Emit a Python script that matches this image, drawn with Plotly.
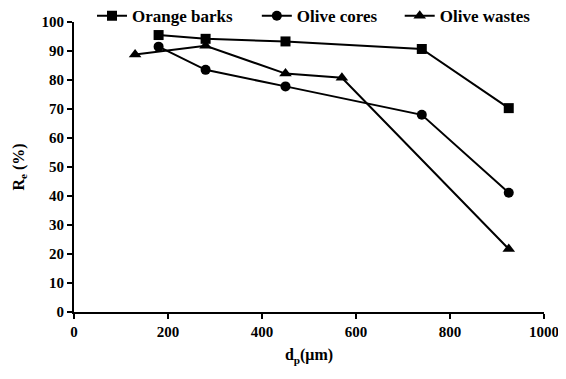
import plotly.graph_objects as go

x_orange = [180, 280, 450, 740, 925]
y_orange = [95.5, 94.2, 93.3, 90.7, 70.3]
x_cores = [180, 280, 450, 740, 925]
y_cores = [91.5, 83.5, 77.8, 68.0, 41.1]
x_wastes = [130, 280, 450, 570, 925]
y_wastes = [88.8, 91.8, 82.2, 80.8, 21.7]

series = [
    ("Orange barks", x_orange, y_orange, "square", "legend"),
    ("Olive cores", x_cores, y_cores, "circle", "legend2"),
    ("Olive wastes", x_wastes, y_wastes, "triangle-up", "legend3"),
]

def f(size):
    return dict(family="Liberation Serif", size=size, color="black", weight="bold")

fig = go.Figure()
for name, xs, ys, sym, lg in series:
    fig.add_trace(go.Scatter(
        x=xs, y=ys, name=name, mode="lines+markers", legend=lg,
        line=dict(color="black", width=2),
        marker=dict(symbol=sym, size=10 if sym != "triangle-up" else 11, color="black"),
    ))

def leg(x):
    return dict(orientation="h", x=x, xanchor="left", y=1.02, yanchor="middle",
                font=f(17), bgcolor="rgba(0,0,0,0)", itemwidth=30,
                borderwidth=0)

fig.update_layout(
    width=558, height=371,
    margin=dict(l=66, r=22, t=14, b=67, autoexpand=False),
    paper_bgcolor="white", plot_bgcolor="white",
    font=f(15),
    showlegend=True,
    legend=leg(0.0383),
    legend2=leg(0.389),
    legend3=leg(0.693),
    xaxis=dict(range=[0, 1000], tickvals=[0, 200, 400, 600, 800, 1000],
               showline=True, linecolor="black", linewidth=2, mirror=False,
               ticks="outside", tickcolor="black", tickwidth=2, ticklen=5,
               showgrid=False, zeroline=False,
               tickfont=f(15),
               title=dict(text="d<sub>p</sub>(μm)", standoff=10, font=f(16))),
    yaxis=dict(range=[0, 100], tickvals=list(range(0, 101, 10)),
               showline=True, linecolor="black", linewidth=2, mirror=False,
               ticks="outside", tickcolor="black", tickwidth=2, ticklen=5,
               showgrid=False, zeroline=False,
               tickfont=f(15),
               title=dict(text="R<sub>e</sub> (%)", standoff=13, font=f(16))),
)

fig.write_html("out.html")
